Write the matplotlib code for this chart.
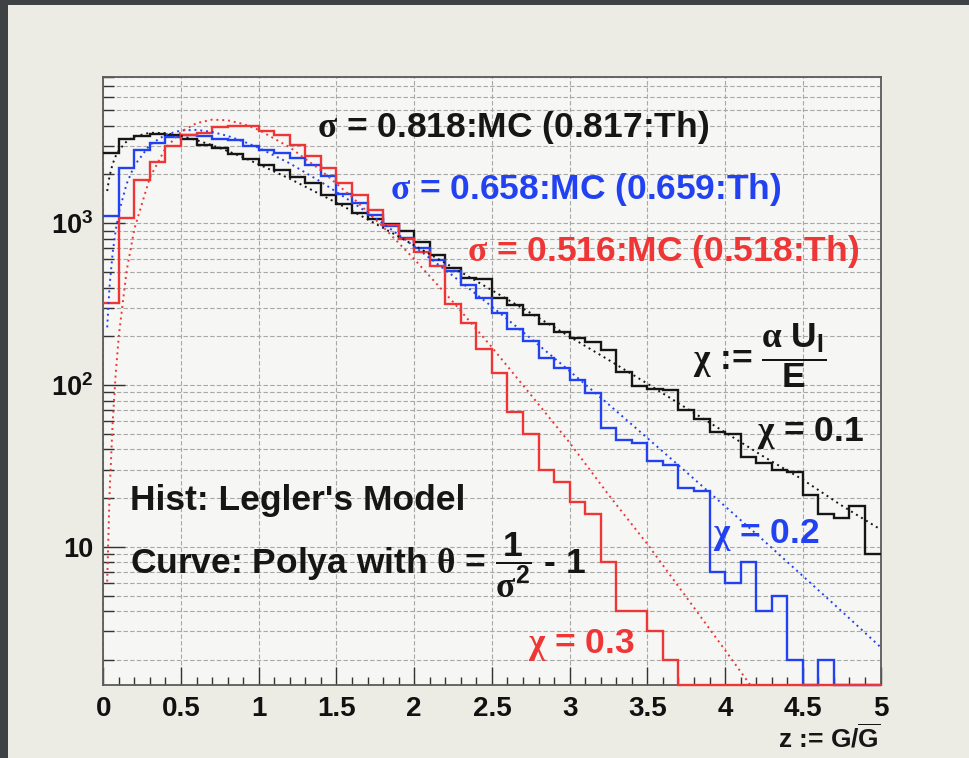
import numpy as np
import matplotlib.pyplot as plt
from matplotlib.patches import Rectangle
from matplotlib.ticker import FixedLocator, MultipleLocator, FuncFormatter, NullFormatter

plt.rcParams['font.family'] = ['Liberation Sans', 'DejaVu Sans']
plt.rcParams['font.weight'] = 'bold'
plt.rcParams['mathtext.fontset'] = 'custom'
plt.rcParams['mathtext.rm'] = 'Liberation Serif'
plt.rcParams['mathtext.it'] = 'Liberation Serif:italic'
plt.rcParams['mathtext.bf'] = 'Liberation Sans:bold'
plt.rcParams['mathtext.default'] = 'bf'

# Legler model histograms, 50 bins of width 0.1 on z = G/Gbar
bin_edges = np.linspace(0.0, 5.0, 51)
hist_chi01 = [2710, 3310, 3470, 3550, 3500, 3300, 3050, 2910, 2690, 2490,
              2290, 2140, 1930, 1760, 1490, 1320, 1150, 1060, 985, 895,
              765, 640, 530, 460, 452, 345, 312, 270, 238, 214,
              194, 185, 165, 121, 98, 95, 93, 70, 62, 51,
              50, 36, 33, 30, 29, 21, 16, 15, 18, 9]
hist_chi02 = [1100, 2190, 2840, 3150, 3430, 3515, 3440, 3310, 3275, 2980,
              2840, 2710, 2520, 2300, 1950, 1520, 1340, 1120, 965, 815,
              700, 590, 505, 415, 345, 280, 222, 186, 147, 128,
              107, 89, 54, 46, 44, 34, 32, 23, 22, 7,
              6, 8, 4, 5, 2, 0, 2, 0, 0, 0]
hist_chi03 = [320, 1070, 1850, 2400, 2980, 3500, 3600, 3950, 4000, 4000,
              3700, 3500, 3050, 2600, 2200, 1760, 1500, 1200, 980, 800,
              660, 540, 315, 243, 168, 118, 68, 50, 30, 25,
              19, 16, 8, 4, 4, 3, 2, 0, 0, 0,
              0, 0, 0, 0, 0, 0, 0, 0, 0, 0]

# Polya curves
curve_z = [0.025, 0.04, 0.06, 0.08, 0.1, 0.15, 0.2, 0.3, 0.4, 0.5, 0.6, 0.7, 0.8, 0.9, 1.0,
           1.2, 1.4, 1.6, 1.8, 2.0, 2.25, 2.5, 2.75, 3.0, 3.25, 3.5, 3.75, 4.0, 4.25, 4.5, 4.75, 5.0]
curve_chi01 = [1580, 1950, 2320, 2600, 2820, 3200, 3430, 3620, 3600, 3460, 3260, 3030, 2790, 2550, 2310,
               1880, 1500, 1190, 935, 730, 532, 385, 278, 199, 143, 102, 72, 51, 36, 26, 18, 12.8]
curve_chi02 = [227, 404, 654, 907, 1160, 1750, 2270, 3050, 3520, 3740, 3770, 3660, 3460, 3200, 2920,
               2340, 1800, 1350, 995, 720, 472, 305, 194, 122, 76, 47, 29, 17.8, 10.9, 6.6, 4.0, 2.4]
curve_chi03 = [6.1, 21, 58, 118, 202, 507, 922, 1920, 2900, 3670, 4150, 4360, 4320, 4100, 3770,
               2940, 2120, 1450, 948, 600, 326, 171, 87, 44, 21, 10.4, 4.9, 2.3, 1.07, 0.49, 0.21, 0.09]

W, H = 969, 758
ymin, ymax = 1.4, 8000
BLACK, BLUE, RED = '#161616', '#2242f2', '#ee3636'


def fx(px):
    return px / W


def fy(py):
    return 1 - py / H


fig = plt.figure(figsize=(W / 100, H / 100), dpi=100)
fig.patch.set_facecolor('#3f4244')
fig.add_artist(Rectangle((8 / W, 0), 1, 1 - 5 / H, transform=fig.transFigure,
                         facecolor='#edece4', edgecolor='none', zorder=-5))

ax = fig.add_axes([fx(103.3), fy(685), (880.5 - 103.3) / W, (685 - 77) / H])
ax.set_facecolor('#f6f6f4')
ax.set_yscale('log')
ax.set_xlim(0, 5)
ax.set_ylim(ymin, ymax)

# histograms (empty bins sit on the bottom of the frame, as in ROOT)
for vals, col in [(hist_chi01, BLACK), (hist_chi02, BLUE), (hist_chi03, RED)]:
    ax.stairs(np.maximum(vals, ymin), bin_edges, baseline=None, color=col,
              lw=1.7, clip_on=False, zorder=3)

for vals, col in [(curve_chi01, BLACK), (curve_chi02, BLUE), (curve_chi03, RED)]:
    ax.plot(curve_z, vals, color=col, lw=1.4, ls=(0, (1, 2)), zorder=4)

# axes / ticks / grid
ax.xaxis.set_major_locator(MultipleLocator(0.5))
ax.xaxis.set_minor_locator(MultipleLocator(0.1))
ax.xaxis.set_major_formatter(FuncFormatter(lambda v, p: '%g' % v))
ax.yaxis.set_major_locator(FixedLocator([10, 100, 1000]))
ax.yaxis.set_minor_locator(FixedLocator([m * 10 ** e for e in range(0, 4) for m in range(2, 10)]))
ax.yaxis.set_major_formatter(FuncFormatter(
    lambda v, p: '10' if v < 50 else r'$10^{%d}$' % round(np.log10(v))))
ax.yaxis.set_minor_formatter(NullFormatter())

ax.tick_params(axis='both', which='both', direction='in', colors='#333333',
               labelcolor='#111111', top=False, right=False)
ax.tick_params(axis='x', which='major', length=13, width=1.0, pad=8, labelsize=20)
ax.tick_params(axis='x', which='minor', length=6, width=1.0)
ax.tick_params(axis='y', which='major', length=16, width=1.0, pad=7, labelsize=19.5)
ax.tick_params(axis='y', which='minor', length=8, width=1.0)

ax.set_axisbelow(True)
ax.grid(axis='x', which='major', color='#a8a8a8', lw=0.8, ls=(0, (4, 2)))
ax.grid(axis='y', which='both', color='#a8a8a8', lw=0.8, ls=(0, (4, 2)))
for s in ax.spines.values():
    s.set_color('#5a5a5a')
    s.set_linewidth(1.3)

# annotations
fs = 25.5
fig.text(fx(317), fy(137), r'$\mathrm{\sigma}$ = 0.818:MC (0.817:Th)', color=BLACK, fontsize=fs)
fig.text(fx(390), fy(199), r'$\mathrm{\sigma}$ = 0.658:MC (0.659:Th)', color=BLUE, fontsize=fs)
fig.text(fx(467), fy(261), r'$\mathrm{\sigma}$ = 0.516:MC (0.518:Th)', color=RED, fontsize=fs)

fig.text(fx(693), fy(370), r'$\mathrm{\chi}$ := $\dfrac{\mathrm{\alpha}\ \mathbf{U_{I}}}{\mathbf{E}}$',
         color=BLACK, fontsize=fs)
fig.text(fx(757), fy(441), r'$\mathrm{\chi}$ = 0.1', color=BLACK, fontsize=fs)
fig.text(fx(713), fy(543), r'$\mathrm{\chi}$ = 0.2', color=BLUE, fontsize=fs)
fig.text(fx(528), fy(653), r'$\mathrm{\chi}$ = 0.3', color=RED, fontsize=fs)

fig.text(fx(130), fy(510), "Hist: Legler's Model", color=BLACK, fontsize=fs)
fig.text(fx(130), fy(574), r'Curve: Polya with $\mathrm{\theta}$ = $\dfrac{1}{\mathrm{\sigma}^{2}}$ - 1',
         color=BLACK, fontsize=fs)

fig.text(fx(880), fy(748), r'z := G/$\overline{\mathbf{G}}$', color=BLACK, fontsize=19, ha='right')

fig.savefig('out.png', dpi=100, facecolor=fig.get_facecolor())
